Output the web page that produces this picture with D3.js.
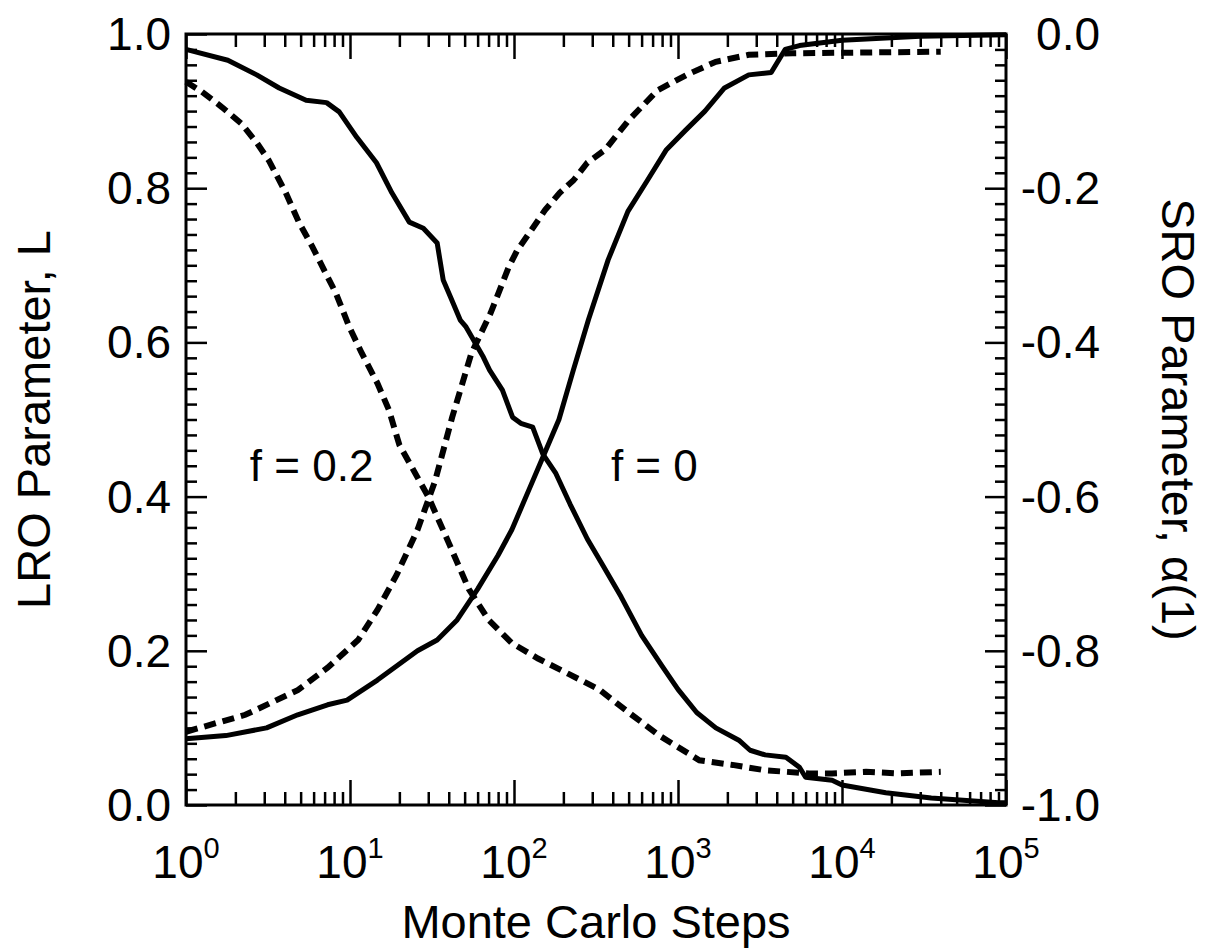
<!DOCTYPE html>
<html>
<head>
<meta charset="utf-8">
<script src="https://cdn.jsdelivr.net/npm/d3@7"></script>
<style>
  html, body { margin: 0; padding: 0; background: #fff; }
  svg { display: block; }
  text { font-family: "Liberation Sans", Arial, Helvetica, sans-serif; fill: #000; }
</style>
</head>
<body>
<svg id="chart" width="1211" height="950"></svg>
<script>
// ---------- data ----------
// f = 0, LRO parameter L (left axis)
const lroF0Steps  = [1, 1.8, 2.7, 3.7, 5.4, 7.2, 8.6, 11, 14.5, 18, 23, 28, 34, 37, 41, 47, 51, 65, 71, 85, 98, 110, 130, 150, 180, 220, 280, 350, 450, 600, 800, 1000, 1300, 1700, 2350, 2750, 3400, 4550, 5500, 6000, 8700, 10000, 18500, 35000, 90000, 100000];
const lroF0Values = [0.98, 0.966, 0.947, 0.930, 0.914, 0.911, 0.899, 0.866, 0.833, 0.794, 0.756, 0.748, 0.729, 0.681, 0.659, 0.629, 0.620, 0.581, 0.564, 0.538, 0.503, 0.495, 0.49, 0.455, 0.43, 0.39, 0.345, 0.31, 0.27, 0.22, 0.18, 0.15, 0.12, 0.10, 0.084, 0.071, 0.065, 0.062, 0.049, 0.036, 0.032, 0.026, 0.016, 0.009, 0.003, 0.003];

// f = 0.2, LRO parameter L (left axis)
const lroF02Steps  = [1, 1.25, 1.66, 2.17, 2.7, 3.2, 4.06, 4.9, 5.9, 7.1, 8.2, 9.9, 11.8, 14.7, 17.3, 20, 30, 40, 53, 70, 97, 140, 215, 330, 500, 770, 1350, 2150, 3400, 4600, 6300, 8700, 14000, 22000, 40000];
const lroF02Values = [0.938, 0.925, 0.905, 0.884, 0.859, 0.836, 0.794, 0.755, 0.724, 0.690, 0.664, 0.620, 0.586, 0.547, 0.512, 0.467, 0.40, 0.34, 0.28, 0.24, 0.21, 0.19, 0.17, 0.15, 0.12, 0.09, 0.058, 0.052, 0.045, 0.043, 0.041, 0.041, 0.043, 0.041, 0.043];

// f = 0, SRO parameter alpha(1) (right axis)
const sroF0Steps  = [1, 1.75, 3.1, 4.8, 7.3, 9.6, 14.7, 25.8, 34, 45, 60, 80, 97, 124, 152, 188, 230, 285, 375, 495, 650, 850, 1110, 1460, 1920, 2700, 3700, 4500, 5500, 10000, 30000, 100000];
const sroF0Values = [-0.914, -0.91, -0.90, -0.883, -0.87, -0.864, -0.838, -0.80, -0.786, -0.76, -0.72, -0.676, -0.643, -0.59, -0.546, -0.50, -0.436, -0.37, -0.293, -0.23, -0.19, -0.15, -0.125, -0.10, -0.07, -0.053, -0.05, -0.02, -0.015, -0.008, -0.003, -0.001];

// f = 0.2, SRO parameter alpha(1) (right axis)
const sroF02Steps  = [1, 2.3, 4.8, 7.3, 11.2, 14.7, 19.2, 25.8, 33, 42, 55, 72, 93, 105, 128, 155, 190, 230, 280, 360, 500, 750, 1130, 1700, 2700, 5000, 40000];
const sroF02Values = [-0.905, -0.883, -0.851, -0.822, -0.786, -0.747, -0.702, -0.643, -0.58, -0.497, -0.414, -0.362, -0.302, -0.28, -0.254, -0.228, -0.206, -0.19, -0.167, -0.15, -0.112, -0.073, -0.053, -0.036, -0.027, -0.025, -0.023];

const xTickValues  = [1, 10, 100, 1000, 10000, 100000];
const xTickExps    = ["0", "1", "2", "3", "4", "5"];
const yLeftTicks   = [0, 0.2, 0.4, 0.6, 0.8, 1.0];
const yLeftLabels  = ["0.0", "0.2", "0.4", "0.6", "0.8", "1.0"];
const yRightTicks  = [-1.0, -0.8, -0.6, -0.4, -0.2, 0.0];
const yRightLabels = ["-1.0", "-0.8", "-0.6", "-0.4", "-0.2", "0.0"];

const annotations = [
  { text: "f = 0.2", step: 2.45, L: 0.42 },
  { text: "f = 0",   step: 390,  L: 0.42 }
];

const xTitle = "Monte Carlo Steps";
const yLeftTitle = "LRO Parameter, L";
const yRightTitle = "SRO Parameter, \u03B1(1)";

// ---------- layout ----------
const plot = { left: 186, right: 1006, top: 34, bottom: 805 };
const svg = d3.select("#chart");

const x = d3.scaleLog().domain([1, 1e5]).range([plot.left, plot.right]);
const yL = d3.scaleLinear().domain([0, 1]).range([plot.bottom, plot.top]);
const yR = d3.scaleLinear().domain([-1, 0]).range([plot.bottom, plot.top]);

// minor tick values
const xMinor = [];
for (let e = 0; e < 5; e++) for (let m = 2; m <= 9; m++) xMinor.push(m * Math.pow(10, e));
const yMinorL = d3.range(0, 51).map(i => i * 0.02).filter((v, i) => i % 10 !== 0);
const yMinorR = d3.range(0, 51).map(i => -1 + i * 0.02).filter((v, i) => i % 10 !== 0);

function styleAxis(g) {
  g.select(".domain").remove();
  g.selectAll(".tick line").attr("stroke", "#000").attr("stroke-width", 2.5);
  g.selectAll(".tick text").remove();
}

// bottom axis (inward ticks)
svg.append("g").attr("transform", `translate(0,${plot.bottom})`)
  .call(d3.axisBottom(x).tickValues(xTickValues).tickSizeInner(-25).tickSizeOuter(0)).call(styleAxis);
svg.append("g").attr("transform", `translate(0,${plot.bottom})`)
  .call(d3.axisBottom(x).tickValues(xMinor).tickSizeInner(-13).tickSizeOuter(0)).call(styleAxis);
// top axis
svg.append("g").attr("transform", `translate(0,${plot.top})`)
  .call(d3.axisTop(x).tickValues(xTickValues).tickSizeInner(-25).tickSizeOuter(0)).call(styleAxis);
svg.append("g").attr("transform", `translate(0,${plot.top})`)
  .call(d3.axisTop(x).tickValues(xMinor).tickSizeInner(-13).tickSizeOuter(0)).call(styleAxis);
// left axis
svg.append("g").attr("transform", `translate(${plot.left},0)`)
  .call(d3.axisLeft(yL).tickValues(yLeftTicks).tickSizeInner(-21).tickSizeOuter(0)).call(styleAxis);
svg.append("g").attr("transform", `translate(${plot.left},0)`)
  .call(d3.axisLeft(yL).tickValues(yMinorL).tickSizeInner(-11).tickSizeOuter(0)).call(styleAxis);
// right axis
svg.append("g").attr("transform", `translate(${plot.right},0)`)
  .call(d3.axisRight(yR).tickValues(yRightTicks).tickSizeInner(-21).tickSizeOuter(0)).call(styleAxis);
svg.append("g").attr("transform", `translate(${plot.right},0)`)
  .call(d3.axisRight(yR).tickValues(yMinorR).tickSizeInner(-11).tickSizeOuter(0)).call(styleAxis);

// frame
svg.append("rect")
  .attr("x", plot.left).attr("y", plot.top)
  .attr("width", plot.right - plot.left).attr("height", plot.bottom - plot.top)
  .attr("fill", "none").attr("stroke", "#000").attr("stroke-width", 3);

// tick labels
const fs = 46;
svg.append("g").selectAll("text").data(xTickValues).join("text")
  .attr("x", d => x(d)).attr("y", 878)
  .attr("text-anchor", "middle").attr("font-size", fs)
  .each(function(d, i) {
    const t = d3.select(this);
    t.append("tspan").text("10");
    t.append("tspan").attr("font-size", 29).attr("dy", -20).text(xTickExps[i]);
  });

svg.append("g").selectAll("text").data(yLeftTicks).join("text")
  .attr("x", plot.left - 15).attr("y", d => yL(d))
  .attr("text-anchor", "end").attr("dominant-baseline", "central").attr("font-size", fs)
  .text((d, i) => yLeftLabels[i]);

svg.append("g").selectAll("text").data(yRightTicks).join("text")
  .attr("x", 1100).attr("y", d => yR(d))
  .attr("text-anchor", "end").attr("dominant-baseline", "central").attr("font-size", fs)
  .text((d, i) => yRightLabels[i]);

// axis titles
svg.append("text").attr("x", (plot.left + plot.right) / 2).attr("y", 938)
  .attr("text-anchor", "middle").attr("font-size", 47).text(xTitle);
svg.append("text").attr("transform", `translate(33,${(plot.top + plot.bottom) / 2}) rotate(-90)`)
  .attr("text-anchor", "middle").attr("dominant-baseline", "central").attr("font-size", 47).text(yLeftTitle);
svg.append("text").attr("transform", `translate(1178,${(plot.top + plot.bottom) / 2}) rotate(90)`)
  .attr("text-anchor", "middle").attr("dominant-baseline", "central").attr("font-size", 47).text(yRightTitle);

// curves
const lineL = d3.line().x(d => x(d[0])).y(d => yL(d[1]));
const lineR = d3.line().x(d => x(d[0])).y(d => yR(d[1]));
const zip = (a, b) => a.map((v, i) => [v, b[i]]);

const gCurves = svg.append("g");
gCurves.append("path").datum(zip(lroF0Steps, lroF0Values)).attr("d", lineL)
  .attr("fill", "none").attr("stroke", "#000").attr("stroke-width", 5).attr("stroke-linejoin", "round");
gCurves.append("path").datum(zip(sroF0Steps, sroF0Values)).attr("d", lineR)
  .attr("fill", "none").attr("stroke", "#000").attr("stroke-width", 5).attr("stroke-linejoin", "round");
gCurves.append("path").datum(zip(lroF02Steps, lroF02Values)).attr("d", lineL)
  .attr("fill", "none").attr("stroke", "#000").attr("stroke-width", 6).attr("stroke-dasharray", "12,7");
gCurves.append("path").datum(zip(sroF02Steps, sroF02Values)).attr("d", lineR)
  .attr("fill", "none").attr("stroke", "#000").attr("stroke-width", 6).attr("stroke-dasharray", "12,7");

// annotations
svg.append("g").selectAll("text").data(annotations).join("text")
  .attr("x", d => x(d.step)).attr("y", d => yL(d.L))
  .attr("font-size", 44).text(d => d.text);
</script>
</body>
</html>
